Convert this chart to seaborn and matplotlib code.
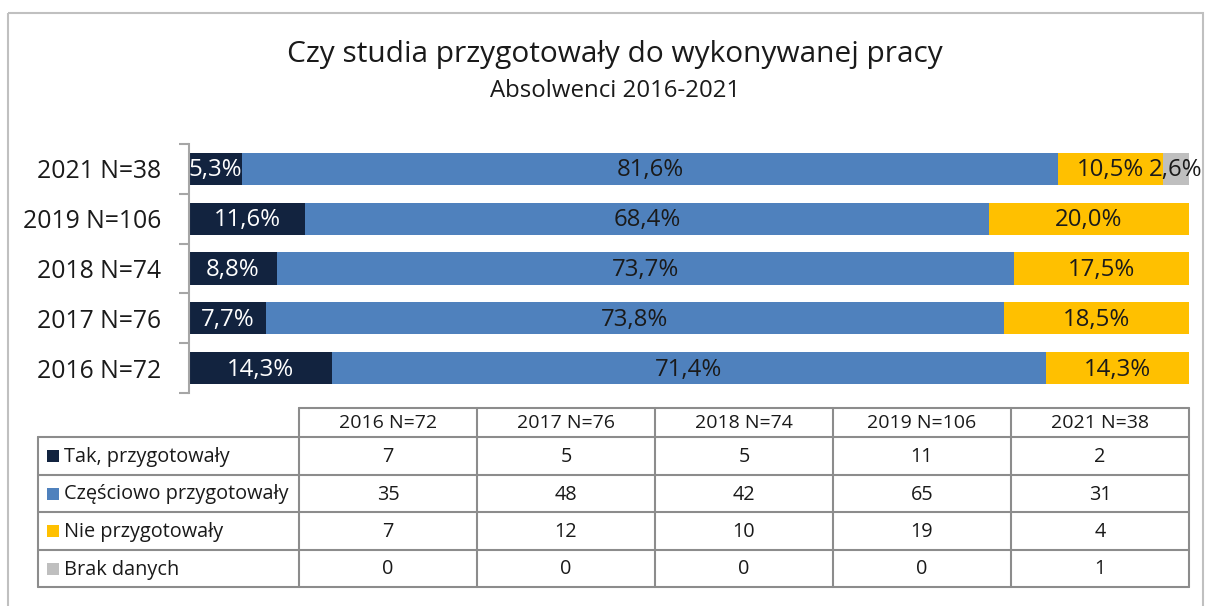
import numpy as np
import pandas as pd
import matplotlib
matplotlib.use("Agg")
import matplotlib.pyplot as plt
import seaborn as sns
from matplotlib.patches import Rectangle

# ---------------- data ----------------
categories = ["2021 N=38", "2019 N=106", "2018 N=74", "2017 N=76", "2016 N=72"]
series_names = ["Tak, przygotowały", "Częściowo przygotowały", "Nie przygotowały", "Brak danych"]
pct_tak = [5.3, 11.6, 8.8, 7.7, 14.3]
pct_czesc = [81.6, 68.4, 73.7, 73.8, 71.4]
pct_nie = [10.5, 20.0, 17.5, 18.5, 14.3]
pct_brak = [2.6, 0.0, 0.0, 0.0, 0.0]

table_columns = ["2016 N=72", "2017 N=76", "2018 N=74", "2019 N=106", "2021 N=38"]
cnt_tak = [7, 5, 5, 11, 2]
cnt_czesc = [35, 48, 42, 65, 31]
cnt_nie = [7, 12, 10, 19, 4]
cnt_brak = [0, 0, 0, 0, 1]

title = "Czy studia przygotowały do wykonywanej pracy"
subtitle = "Absolwenci 2016-2021"

colors = ["#12233f", "#4f81bd", "#ffc000", "#bfbfbf"]
label_colors = ["white", "#1a1a1a", "#1a1a1a", "#1a1a1a"]

# ---------------- figure ----------------
sns.set_style("white")
plt.rcParams["font.family"] = ["Open Sans", "DejaVu Sans"]

W, H = 1205, 606
fig = plt.figure(figsize=(W / 100, H / 100), dpi=100)

# background / layout axes in pixel coordinates
bg = fig.add_axes([0, 0, 1, 1])
bg.set_xlim(0, W)
bg.set_ylim(H, 0)
bg.axis("off")
bg.add_patch(Rectangle((8, 13), 1195, 700, fill=False, edgecolor="#c0c0c0", lw=1.5))
bg.text(615, 62, title, ha="center", va="baseline", fontsize=21.5, color="#1a1a1a")
bg.text(615, 97, subtitle, ha="center", va="baseline", fontsize=17.3, color="#1a1a1a")

# ---------------- stacked bars ----------------
ax = fig.add_axes([189 / W, (H - 393) / H, 1000 / W, 249 / H])
series = [pct_tak, pct_czesc, pct_nie, pct_brak]
df = pd.DataFrame({"cat": categories})
cum = np.cumsum(np.array(series), axis=0)
for k in range(len(series) - 1, -1, -1):
    df["v"] = cum[k]
    sns.barplot(data=df, x="v", y="cat", order=categories, orient="h",
                color=colors[k], saturation=1, width=0.65, ax=ax, linewidth=0)

starts = np.vstack([np.zeros(len(categories)), cum[:-1]])
for k, vals in enumerate(series):
    for i, v in enumerate(vals):
        if v <= 0:
            continue
        ax.text(starts[k][i] + v / 2, i + 0.03, f"{v:.1f}%".replace(".", ","),
                ha="center", va="center", fontsize=17.3, color=label_colors[k])

ax.set_xlim(0, 100)
ax.set_ylim(4.5, -0.5)
ax.set_xlabel("")
ax.set_ylabel("")
ax.set_xticks([])
for s in ["top", "right", "bottom"]:
    ax.spines[s].set_visible(False)
ax.spines["left"].set_color("#a6a6a6")
ax.spines["left"].set_linewidth(1.5)
ax.set_yticks(np.arange(-0.5, 5, 1), minor=True)
ax.tick_params(axis="y", which="minor", length=7, width=1.5, color="#a6a6a6", left=True)
ax.tick_params(axis="y", which="major", length=0, pad=20, labelsize=17.8, labelcolor="#1a1a1a")

# ---------------- data table ----------------
col_x = [299, 477, 655, 833, 1011, 1189]
row_y = [408, 437, 475, 512, 550, 587]
left_x = 38
lc = "#8c8c8c"
lw = 1.5
bg.plot([col_x[0], col_x[-1]], [row_y[0], row_y[0]], color=lc, lw=lw)
for y in row_y[1:]:
    bg.plot([left_x, col_x[-1]], [y, y], color=lc, lw=lw)
for x in col_x:
    bg.plot([x, x], [row_y[0], row_y[-1]], color=lc, lw=lw)
bg.plot([left_x, left_x], [row_y[1], row_y[-1]], color=lc, lw=lw)

for j, c in enumerate(table_columns):
    bg.text((col_x[j] + col_x[j + 1]) / 2, (row_y[0] + row_y[1]) / 2 + 1, c,
            ha="center", va="center", fontsize=14, color="#1a1a1a")

counts = [cnt_tak, cnt_czesc, cnt_nie, cnt_brak]
for r, (name, vals) in enumerate(zip(series_names, counts)):
    yc = (row_y[r + 1] + row_y[r + 2]) / 2
    bg.add_patch(Rectangle((47, yc - 6), 12, 12, facecolor=colors[r], edgecolor="none"))
    bg.text(64, yc + 1, name, ha="left", va="center", fontsize=14.3, color="#1a1a1a")
    for j, v in enumerate(vals):
        bg.text((col_x[j] + col_x[j + 1]) / 2, yc + 1, str(v),
                ha="center", va="center", fontsize=14.3, color="#1a1a1a")

fig.savefig("out.png", dpi=100)
